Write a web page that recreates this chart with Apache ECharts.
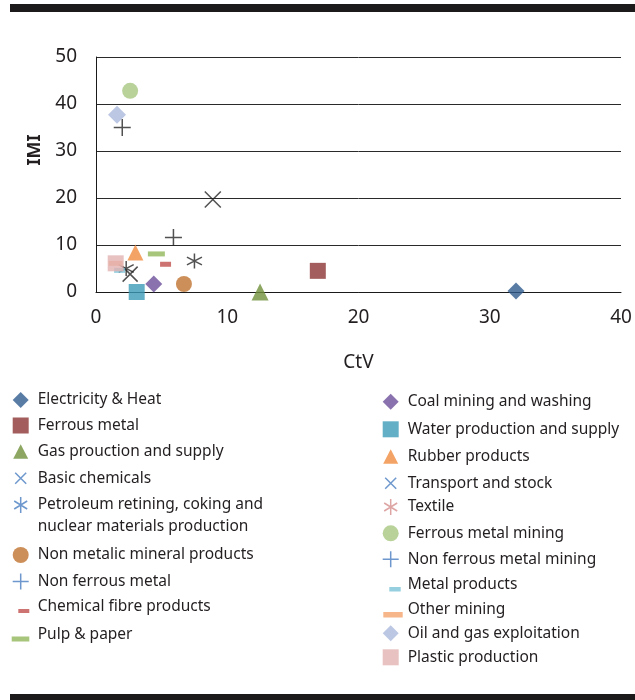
<!DOCTYPE html>
<html>
<head>
<meta charset="utf-8">
<script src="https://cdn.jsdelivr.net/npm/echarts@6/dist/echarts.min.js"></script>
<style>
  html, body { margin: 0; padding: 0; background: #fff; }
  #chart { width: 635px; height: 700px; }
</style>
</head>
<body>
<div id="chart"></div>
<script>
// Industries, in series order
const industries = [
  'Electricity & Heat',
  'Ferrous metal',
  'Gas prouction and supply',
  'Basic chemicals',
  'Petroleum retining, coking and nuclear materials production',
  'Non metalic mineral products',
  'Non ferrous metal',
  'Chemical fibre products',
  'Pulp & paper',
  'Coal mining and washing',
  'Water production and supply',
  'Rubber products',
  'Transport and stock',
  'Textile',
  'Ferrous metal mining',
  'Non ferrous metal mining',
  'Metal products',
  'Other mining',
  'Oil and gas exploitation',
  'Plastic production'
];
// CtV (x) and IMI (y) for each industry
const ctvValues = [32.0, 16.9, 12.5, 2.6, 2.3, 6.7, 5.9, 5.3, 4.6, 4.4, 3.1, 3.0, 8.9, 7.5, 2.6, 2.0, 1.8, 1.5, 1.6, 1.5];
const imiValues = [0.2, 4.5, 0.0, 3.8, 5.0, 1.7, 11.6, 5.9, 8.1, 1.7, 0.0, 8.4, 19.7, 6.6, 42.8, 35.0, 4.6, 6.1, 37.7, 6.1];
// Axis ticks
const xTicks = [0, 10, 20, 30, 40];
const yTicks = [0, 10, 20, 30, 40, 50];

const FONT = '"Noto Sans", "Open Sans", sans-serif';
const INK = '#231f20';
const STROKE_MARK = '#262626';
const LEGEND_FONT = 15.5;

// Marker paths
const P_X = 'path://M0,0L10,10M10,0L0,10';
const P_PLUS = 'path://M5,0L5,10M0,5L10,5';
const P_AST = 'path://M5,0L5,10M0.6,2.4L9.4,7.6M9.4,2.4L0.6,7.6';

// Legend icons drawn inside a fixed 24x24 box (the leading moves pin the box)
const BOX = 'path://M0,0M24,24';
const L = {
  diamond: BOX + 'M12,4L20,12L12,20L4,12Z',
  square: BOX + 'M4,4H20V20H4Z',
  triangle: BOX + 'M12,4.5L19.5,19L4.5,19Z',
  cross: BOX + 'M6.5,6.5L17.5,17.5M17.5,6.5L6.5,17.5',
  plus: BOX + 'M12,4L12,20M4,12L20,12',
  aster: BOX + 'M12,4L12,20M5.5,8L18.5,16M18.5,8L5.5,16',
  circle: BOX + 'M4,12A8,8 0 1,0 20,12A8,8 0 1,0 4,12Z',
  dashRed: BOX + 'M9.6,14H20.6V18H9.6Z',
  dashGreen: BOX + 'M3,13.5H20.6V18.5H3Z',
  dashBlue: BOX + 'M10.6,14H22V18.5H10.6Z',
  dashOrange: BOX + 'M4.6,14H24V19.5H4.6Z'
};

// Per-series appearance: plot symbol, size, fill/stroke, legend icon
const looks = [
  { symbol: 'diamond', size: 17, color: '#2f5b8e', icon: L.diamond },
  { symbol: 'rect', size: 16, color: '#8c3434', icon: L.square },
  { symbol: 'triangle', size: [17, 17], color: '#71913c', icon: L.triangle },
  { symbol: P_X, size: 15, stroke: STROKE_MARK, legendColor: '#4a7ec0', icon: L.cross },
  { symbol: P_AST, size: 15, stroke: STROKE_MARK, legendColor: '#4a7ec0', icon: L.aster },
  { symbol: 'circle', size: 16, color: '#c1732f', icon: L.circle },
  { symbol: P_PLUS, size: 17, stroke: STROKE_MARK, legendColor: '#4a7ec0', icon: L.plus },
  { symbol: 'rect', size: [11, 5], color: '#c0504d', icon: L.dashRed },
  { symbol: 'rect', size: [17, 5], color: '#92b85a', icon: L.dashGreen },
  { symbol: 'diamond', size: 17, color: '#6c4f98', icon: L.diamond },
  { symbol: 'rect', size: 16, color: '#3c9cb8', icon: L.square },
  { symbol: 'triangle', size: [16, 16], color: '#f08c3e', icon: L.triangle },
  { symbol: P_X, size: 16, stroke: STROKE_MARK, legendColor: '#4a7ec0', icon: L.cross },
  { symbol: P_AST, size: 15, stroke: STROKE_MARK, legendColor: '#d48f8d', icon: L.aster },
  { symbol: 'circle', size: 16, color: '#a6c77f', icon: L.circle },
  { symbol: P_PLUS, size: 17, stroke: STROKE_MARK, legendColor: '#4a7ec0', icon: L.plus },
  { symbol: 'rect', size: [11, 5], color: '#7cc3d8', icon: L.dashBlue },
  { symbol: 'rect', size: [14, 5], color: '#f4a46c', icon: L.dashOrange },
  { symbol: 'diamond', size: 18, color: '#aab9dc', icon: L.diamond },
  { symbol: 'rect', size: 16, color: '#e2b2b2', icon: L.square }
];

// Legend placement: [left edge of icon box, vertical centre of the row]
const legendSlots = [
  [8.7, 400], [8.7, 425.5], [8.7, 451.7], [8.7, 478.3], [8.7, 505],
  [8.7, 555], [8.7, 581.5], [8.7, 607], [8.7, 635],
  [378.7, 401.7], [378.7, 429.3], [378.7, 456.7], [378.7, 483.3], [378.7, 507], [378.7, 533.3],
  [378.7, 559.3], [378.7, 585], [378.7, 610], [378.7, 633.3], [378.7, 657.3]
];
// Stroked icons report a padded bounding box (stroke hit threshold), so pull them back
const STROKE_PAD = 2.5;

const series = industries.map((name, i) => {
  const lk = looks[i];
  const itemStyle = lk.stroke
    ? { color: 'none', borderColor: lk.stroke, borderWidth: 1.5 }
    : { color: lk.color, borderWidth: 0 };
  return {
    name,
    type: 'scatter',
    symbol: lk.symbol,
    symbolSize: lk.size,
    itemStyle,
    emphasis: { disabled: true },
    silent: true,
    data: [[ctvValues[i], imiValues[i]]]
  };
});

// One single-row legend per industry, so each row sits exactly where it belongs
const legends = industries.map((name, i) => {
  const lk = looks[i];
  const [left, cy] = legendSlots[i];
  const pad = lk.stroke ? STROKE_PAD : 0;
  return {
    data: [{
      name,
      icon: lk.icon,
      itemStyle: lk.stroke
        ? { color: 'none', borderColor: lk.legendColor, borderWidth: 1.5 }
        : { color: lk.color, borderColor: lk.color, borderWidth: 0 }
    }],
    orient: 'vertical',
    left: left - pad,
    top: cy - 12 - pad,
    padding: 0,
    itemWidth: 24,
    itemHeight: 24,
    selectedMode: false,
    symbolKeepAspect: true,
    textStyle: { fontFamily: FONT, fontSize: LEGEND_FONT, color: INK, lineHeight: 24 },
    formatter: (n) => n.startsWith('Petroleum') ? 'Petroleum retining, coking and' : n
  };
});

const chart = echarts.init(document.getElementById('chart'), null, { renderer: 'canvas' });
chart.setOption({
  animation: false,
  backgroundColor: '#ffffff',
  grid: { left: 96, right: 14, top: 57, bottom: 408, containLabel: false },
  xAxis: {
    type: 'value',
    min: xTicks[0], max: xTicks[xTicks.length - 1], interval: 10,
    name: 'CtV',
    nameLocation: 'middle',
    nameGap: 61,
    nameTextStyle: { fontFamily: FONT, fontSize: 19, color: INK },
    axisLine: { show: true, lineStyle: { color: '#1a1a1a', width: 1 } },
    axisTick: { show: false },
    splitLine: { show: false },
    axisLabel: { fontFamily: FONT, fontSize: 19, color: INK, margin: 16 }
  },
  yAxis: {
    type: 'value',
    min: yTicks[0], max: yTicks[yTicks.length - 1], interval: 10,
    axisLine: { show: true, lineStyle: { color: '#1a1a1a', width: 1 } },
    axisTick: { show: false },
    splitLine: { show: true, lineStyle: { color: '#2a2a2a', width: 1 } },
    axisLabel: { fontFamily: FONT, fontSize: 19, color: INK, margin: 19 }
  },
  legend: legends,
  graphic: [
    { type: 'rect', left: 10, top: 4, shape: { width: 625, height: 8 }, style: { fill: '#1c1a1b' }, silent: true },
    { type: 'rect', left: 10, top: 694, shape: { width: 625, height: 6 }, style: { fill: '#1c1a1b' }, silent: true },
    {
      type: 'text', x: 35, y: 150, rotation: Math.PI / 2,
      style: {
        text: 'IMI', fontFamily: FONT, fontSize: 18, fontWeight: 'bold',
        fill: INK, align: 'center', verticalAlign: 'middle'
      },
      silent: true
    },
    {
      type: 'text', x: 37.7, y: 527,
      style: {
        text: 'nuclear materials production', fontFamily: FONT, fontSize: LEGEND_FONT,
        fill: INK, align: 'left', verticalAlign: 'middle'
      },
      silent: true
    }
  ],
  series
});
</script>
</body>
</html>
